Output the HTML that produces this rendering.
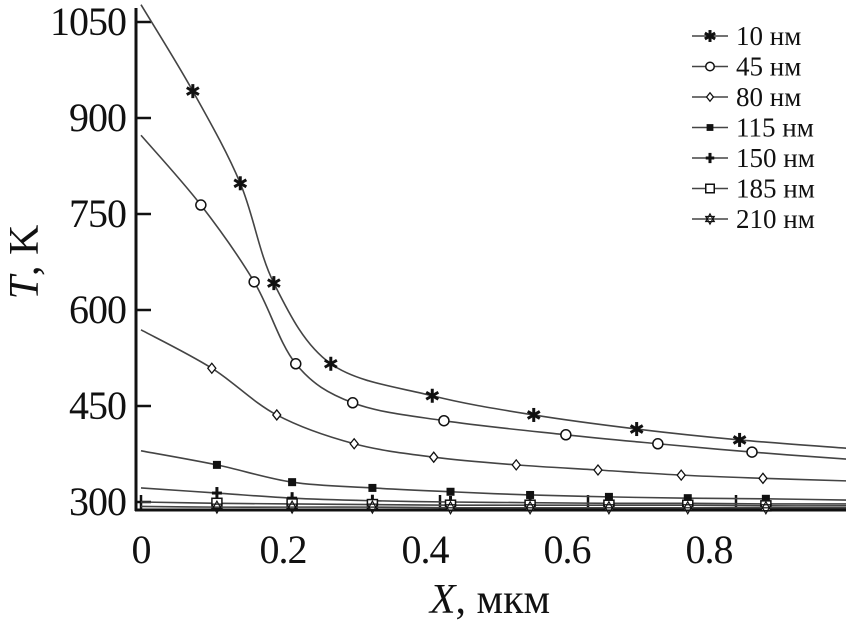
<!DOCTYPE html>
<html><head><meta charset="utf-8"><style>
html,body{margin:0;padding:0;background:#fff;}
svg{display:block;font-family:"Liberation Serif",serif;}
</style></head><body>
<svg id="chart" width="846" height="626" viewBox="0 0 846 626">
<g id="axes"></g><g id="series"></g><g id="legend"></g>
</svg>
<script>
const xTicks=[0,0.2,0.4,0.6,0.8];
const xTickLabels=["0","0.2","0.4","0.6","0.8"];
const yTicks=[300,450,600,750,900,1050];
const yTickLabels=["300","450","600","750","900","1050"];
const seriesNames=["10 нм","45 нм","80 нм","115 нм","150 нм","185 нм","210 нм"];
const markerTypes=["star","circle","diamond","square","plus","opensquare","hexstar"];
const x10=[0,0.071,0.136,0.182,0.26,0.399,0.538,0.679,0.82,0.966];
const t10=[1077,942,798,642,516,466,436,414,397,384];
const x45=[0,0.082,0.155,0.212,0.29,0.415,0.582,0.708,0.837,0.966];
const t45=[873,764,644,516,455,427,405,391,378,367];
const x80=[0,0.097,0.186,0.292,0.401,0.514,0.626,0.74,0.852,0.966];
const t80=[569,509,436,391,370,358,350,342,337,333];
const xLow=[0,0.104,0.207,0.317,0.424,0.533,0.641,0.749,0.856,0.966];
const t115=[380,358,331,322,316,311,308,306,305,303];
const t150=[322,314,306,302,300,299,298,298,297,297];
const t185=[300,298,297,296,295,295,295,295,294,294];
const t210=[293,292,292,292,291,291,291,291,291,291];
const seriesX=[x10,x45,x80,xLow,xLow,xLow,xLow];
const seriesT=[t10,t45,t80,t115,t150,t185,t210];

const NS="http://www.w3.org/2000/svg";
const X0=141,XS=730,YB=502,YS=96/150;
const sx=v=>X0+v*XS, sy=v=>YB-(v-300)*YS;
function mk(tag,attrs,parent){const e=document.createElementNS(NS,tag);for(const k in attrs)e.setAttribute(k,attrs[k]);parent.appendChild(e);return e;}
const axes=document.getElementById('axes'),ser=document.getElementById('series'),leg=document.getElementById('legend');
let e;
e=mk('line',{x1:136,y1:8,x2:136,y2:511,stroke:'#111','stroke-width':3},axes);


e=mk('line',{x1:135,y1:510,x2:846,y2:510,stroke:'#111','stroke-width':3},axes);


yTicks.forEach((v,i)=>{
 mk('line',{x1:136,y1:sy(v),x2:151,y2:sy(v),stroke:'#111','stroke-width':2.5},axes);
 const t=mk('text',{x:126,y:sy(v)+13,'text-anchor':'end','font-size':40,'letter-spacing':-1,fill:'#111'},axes);
 t.textContent=yTickLabels[i];
 
 
});
xTicks.forEach((v,i)=>{
 const px=X0+v*XS;
 mk('line',{x1:px+(v>0?3+v*10:0),y1:510,x2:px+(v>0?3+v*10:0),y2:495,stroke:'#111','stroke-width':2.5},axes);
 const t=mk('text',{x:X0+v*710,y:563,'text-anchor':'middle','font-size':40,'letter-spacing':-1,fill:'#111'},axes);
 t.textContent=xTickLabels[i];
 
 
});
e=mk('text',{x:0,y:0,'font-size':42,fill:'#111',transform:'translate(38,262) rotate(-90)','text-anchor':'middle'},axes);
e.innerHTML='<tspan font-style="italic">T</tspan>, K';


e=mk('text',{x:490,y:613,'font-size':42,fill:'#111','text-anchor':'middle'},axes);
e.innerHTML='<tspan font-style="italic">X</tspan>, мкм';



function pathFor(xs,ts){
 const p=xs.map((x,i)=>[sx(x),sy(ts[i])]);
 let d='M'+p[0][0]+','+p[0][1];
 for(let i=0;i<p.length-1;i++){
  const p0=p[i-1]||p[i],p1=p[i],p2=p[i+1],p3=p[i+2]||p2;
  const c1=[p1[0]+(p2[0]-p0[0])/6,p1[1]+(p2[1]-p0[1])/6];
  const c2=[p2[0]-(p3[0]-p1[0])/6,p2[1]-(p3[1]-p1[1])/6];
  d+=` C${c1[0]},${c1[1]} ${c2[0]},${c2[1]} ${p2[0]},${p2[1]}`;
 }
 return d;
}
function marker(type,x,y,g,s){
 s=s||1;
 const st={stroke:'#111','stroke-width':1.5,fill:'none'};
 if(type==='star'){for(let a=0;a<3;a++){const an=a*Math.PI/3+Math.PI/2;mk('line',Object.assign({x1:x-7*s*Math.cos(an),y1:y-7*s*Math.sin(an),x2:x+7*s*Math.cos(an),y2:y+7*s*Math.sin(an)},st,{'stroke-width':3}),g);}}
 else if(type==='circle')mk('circle',Object.assign({cx:x,cy:y,r:5*s,fill:'#fff'},{stroke:'#111','stroke-width':1.5}),g);
 else if(type==='diamond')mk('polygon',{points:`${x},${y-5*s} ${x+4*s},${y} ${x},${y+5*s} ${x-4*s},${y}`,fill:'#fff',stroke:'#111','stroke-width':1.3},g);
 else if(type==='square')mk('rect',{x:x-4*s,y:y-4*s,width:8*s,height:8*s,fill:'#111'},g);
 else if(type==='plus'){mk('line',{x1:x-5*s,y1:y,x2:x+5*s,y2:y,stroke:'#111','stroke-width':3},g);mk('line',{x1:x,y1:y-6*s,x2:x,y2:y+6*s,stroke:'#111','stroke-width':3},g);}
 else if(type==='opensquare')mk('rect',{x:x-5*s,y:y-5*s,width:10*s,height:10*s,fill:'#fff',stroke:'#111','stroke-width':1.5},g);
 else if(type==='hexstar'){mk('polygon',{points:`${x},${y-6*s} ${x+5*s},${y+3*s} ${x-5*s},${y+3*s}`,fill:'none',stroke:'#111','stroke-width':1.2},g);mk('polygon',{points:`${x},${y+6*s} ${x+5*s},${y-3*s} ${x-5*s},${y-3*s}`,fill:'none',stroke:'#111','stroke-width':1.2},g);}
}
seriesNames.forEach((name,k)=>{
 const g=mk('g',{},ser);
 
 
 const xs=seriesX[k],ts=seriesT[k];
 mk('path',{d:pathFor(xs,ts),fill:'none',stroke:'#444','stroke-width':1.6},g);
 for(let i=1;i<xs.length-1;i++){
  const m=mk('g',{},g);
  
  
  marker(markerTypes[k],sx(xs[i]),sy(ts[i]),m);
 }
 const ly=36+k*30.5;
 const le=mk('g',{},leg);
 
 
 mk('line',{x1:692,y1:ly,x2:728,y2:ly,stroke:'#444','stroke-width':1.6},le);
 marker(markerTypes[k],710,ly,le,0.85);
 const t=mk('text',{x:736,y:ly+9,'font-size':27,fill:'#111'},le);
 t.textContent=name;
});
</script>
</body></html>
